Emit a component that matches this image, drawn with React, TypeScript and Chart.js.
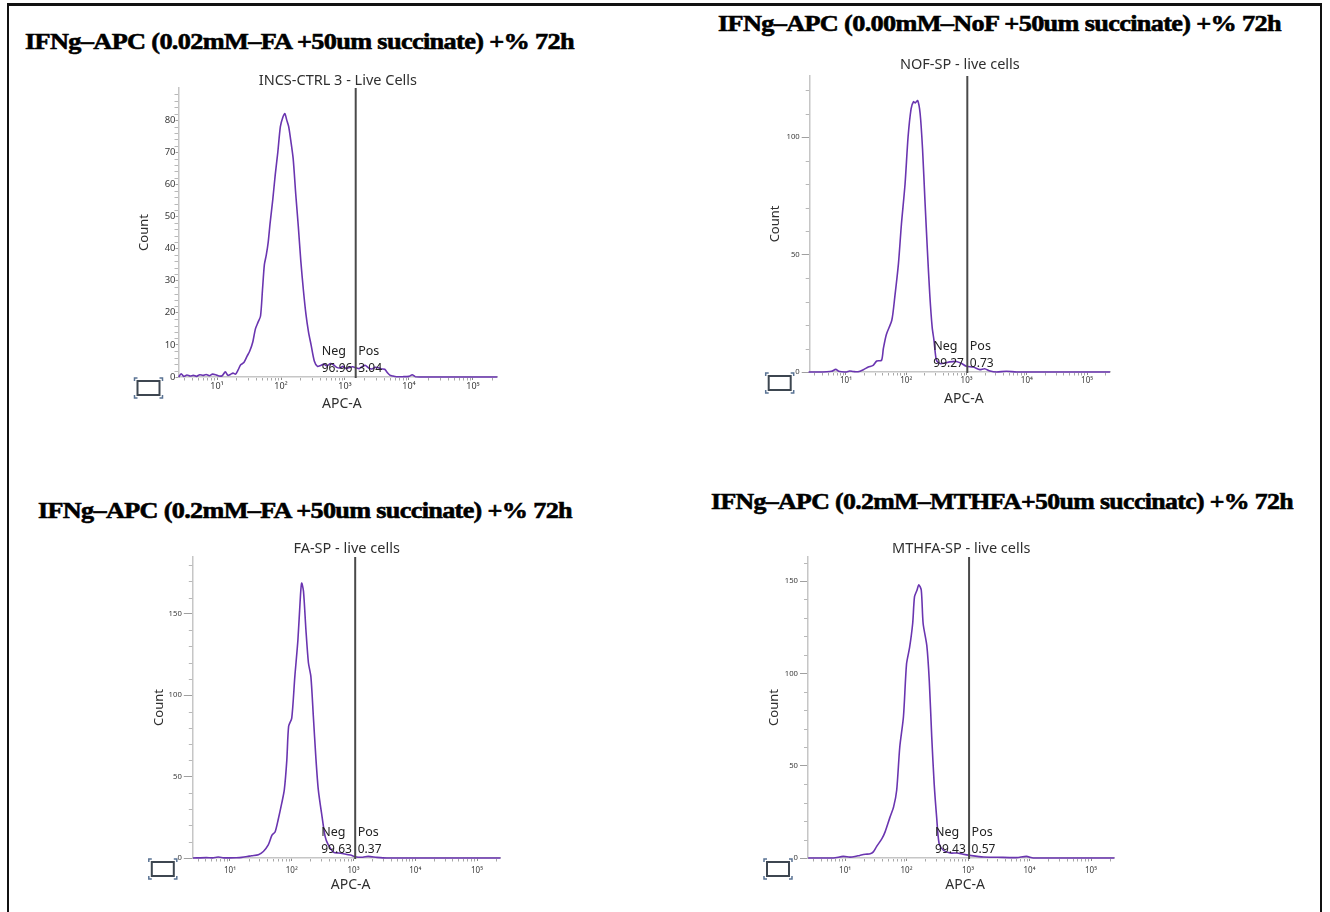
import React, { useEffect, useLayoutEffect, useRef } from "react";
import { Chart, registerables } from "chart.js";

Chart.register(...registerables);

// ---------------- data ----------------
// x axis decades
const decadeTicks = [10, 100, 1000, 10000, 100000];
const decadeLabels = ["10\u00B9", "10\u00B2", "10\u00B3", "10\u2074", "10\u2075"];
const apcMin = 2.5;
const apcMax = 240000;

// histograms: [log10(APC-A), Count]
const ctrlHist: number[][] = [
  [0.40, 0], [0.44, 1.0], [0.48, 0.2], [0.53, 0.6], [0.58, 0.3], [0.63, 0.5], [0.68, 0.2], [0.73, 0.7],
  [0.78, 0.5], [0.83, 0.8], [0.88, 0.4], [0.93, 0.9], [0.98, 0.7], [1.03, 0.3], [1.08, 0.4], [1.13, 1.6],
  [1.17, 0.5], [1.21, 0.8], [1.25, 1.2], [1.29, 0.9], [1.33, 2.2], [1.37, 3.8], [1.42, 4.5], [1.47, 6.5],
  [1.51, 8.0], [1.56, 11], [1.60, 15], [1.64, 17], [1.68, 19], [1.71, 27], [1.74, 35], [1.77, 38],
  [1.80, 42], [1.83, 48], [1.87, 55], [1.91, 63], [1.95, 70], [1.99, 78], [2.03, 81], [2.06, 82],
  [2.09, 80], [2.12, 78], [2.15, 74], [2.19, 68], [2.23, 57], [2.27, 47], [2.31, 36], [2.35, 27],
  [2.39, 19.5], [2.43, 14], [2.47, 10], [2.52, 5], [2.57, 3.3], [2.62, 3.6], [2.67, 4.0], [2.72, 3.4],
  [2.77, 4.2], [2.82, 3.8], [2.87, 3.0], [2.92, 2.8], [2.97, 3.3], [3.02, 2.6], [3.07, 3.0], [3.12, 3.2],
  [3.17, 2.9], [3.22, 2.6], [3.27, 3.3], [3.32, 3.6], [3.37, 2.8], [3.42, 2.5], [3.47, 3.0], [3.52, 2.9],
  [3.57, 2.5], [3.62, 2.4], [3.66, 1.4], [3.70, 0.6], [3.75, 0.3], [3.80, 0.1], [3.90, 0.1], [4.00, 0.2],
  [4.05, 0.7], [4.10, 0.1], [4.30, 0], [4.70, 0], [5.10, 0], [5.38, 0],
];

const nofHist: number[][] = [
  [0.38, 0], [0.51, 0], [0.68, 0.1], [0.76, 0.3], [0.83, 1.1], [0.88, 0.3], [0.93, 0.1], [1.01, 0],
  [1.06, 0.4], [1.12, 0.2], [1.20, 0.1], [1.29, 1.0], [1.37, 2.1], [1.45, 2.8], [1.51, 4.7], [1.59, 5.0],
  [1.62, 10], [1.67, 16], [1.76, 22], [1.81, 32], [1.87, 46], [1.92, 63], [1.98, 80], [2.03, 100],
  [2.08, 112], [2.12, 115], [2.15, 114.5], [2.19, 115.5], [2.23, 110], [2.27, 95], [2.31, 73], [2.35, 52],
  [2.39, 33], [2.43, 19], [2.46, 13.5], [2.50, 5], [2.56, 3.6], [2.64, 3.8], [2.72, 4.3], [2.83, 4.5],
  [2.92, 3.6], [3.00, 2.4], [3.11, 2.1], [3.22, 1.0], [3.30, 1.4], [3.39, 0.4], [3.50, 0], [3.66, 0.3],
  [3.83, 0], [4.20, 0], [4.80, 0], [5.38, 0],
];

const faHist: number[][] = [
  [0.40, 0], [0.62, 0.2], [0.72, 0.1], [0.81, 0.6], [0.90, 0.1], [1.00, 0.1], [1.10, 0.2], [1.19, 0.4],
  [1.28, 0.9], [1.35, 1.4], [1.46, 2], [1.54, 4], [1.62, 8], [1.68, 14], [1.73, 16], [1.78, 23.5],
  [1.84, 34], [1.88, 42], [1.92, 60], [1.95, 81], [2.00, 86], [2.05, 111.5], [2.10, 134], [2.14, 160.6],
  [2.16, 169], [2.19, 164], [2.23, 140], [2.27, 120], [2.31, 111.5], [2.35, 87], [2.39, 62], [2.43, 42],
  [2.49, 25.6], [2.54, 13.3], [2.59, 8.2], [2.68, 3.5], [2.76, 3.1], [2.86, 2.5], [2.95, 1.8], [3.05, 0.6],
  [3.15, 0.5], [3.24, 1], [3.38, 0.4], [3.54, 0], [4.20, 0], [5.38, 0],
];

const mthfaHist: number[][] = [
  [0.40, 0], [0.81, 0], [0.97, 0.9], [1.08, 0.5], [1.16, 0.8], [1.24, 1.4], [1.33, 2], [1.41, 2.3],
  [1.46, 3.3], [1.51, 6], [1.60, 10.5], [1.65, 14], [1.73, 22], [1.79, 27.7], [1.84, 36.7], [1.89, 60],
  [1.95, 76.5], [2.00, 105], [2.05, 114], [2.10, 127], [2.13, 141.5], [2.17, 145], [2.20, 148], [2.24, 145],
  [2.27, 127], [2.33, 115], [2.37, 96], [2.41, 65.6], [2.45, 40], [2.49, 22], [2.53, 7.8], [2.60, 4.2],
  [2.71, 2.7], [2.82, 2.7], [2.92, 2], [3.03, 1.4], [3.25, 0.5], [3.47, 0.4], [3.79, 0.2], [3.95, 0.9],
  [4.06, 0], [4.50, 0], [5.38, 0],
];

const ctrlYTicks = [0, 10, 20, 30, 40, 50, 60, 70, 80];
const nofYTicks = [0, 50, 100];
const faYTicks = [0, 50, 100, 150];
const mthfaYTicks = [0, 50, 100, 150];

const panelHists = [ctrlHist, nofHist, faHist, mthfaHist];
const panelYTicks = [ctrlYTicks, nofYTicks, faYTicks, mthfaYTicks];
const yMaxes = [90, 126, 185, 163];
const yMinorSteps = [2, 10, 10, 10];
const gateValues = [1470, 1030, 1065, 1040];
const negPercents = ["96.96", "99.27", "99.63", "99.43"];
const posPercents = ["3.04", "0.73", "0.37", "0.57"];
const panelNames = ["INCS-CTRL 3 - Live Cells", "NOF-SP - live cells", "FA-SP - live cells", "MTHFA-SP - live cells"];
const headings = [
  "IFNg\u2013APC (0.02mM\u2013FA +50um succinate) +% 72h",
  "IFNg\u2013APC (0.00mM\u2013NoF +50um succinate) +% 72h",
  "IFNg\u2013APC (0.2mM\u2013FA +50um succinate) +% 72h",
  "IFNg\u2013APC (0.2mM\u2013MTHFA+50um succinatc) +% 72h",
];

// ---------------- layout ----------------
const FONT = "'Noto Sans', 'Segoe UI', sans-serif";
const CURVE = "#6a35b0";

type Area = { left: number; top: number; right: number; bottom: number };
type PanelLayout = {
  area: Area;
  yTickFont: number;
  xTickFont: number;
  yTickLen: number;
  yTickPad: number;
  xTickPad: number;
  titleGap: number;
};

const panelLayouts: PanelLayout[] = [
  { area: { left: 178.5, top: 88, right: 497.3, bottom: 377 }, yTickFont: 9.5, xTickFont: 9, yTickLen: 3, yTickPad: 0, xTickPad: 0.6, titleGap: 7 },
  { area: { left: 809.7, top: 75.9, right: 1110, bottom: 372 }, yTickFont: 7.7, xTickFont: 8, yTickLen: 8, yTickPad: 2, xTickPad: 0.7, titleGap: 11 },
  { area: { left: 192.8, top: 557, right: 500.5, bottom: 858 }, yTickFont: 7.7, xTickFont: 8, yTickLen: 9, yTickPad: 2, xTickPad: 5.2, titleGap: 8 },
  { area: { left: 808, top: 557, right: 1114.4, bottom: 858 }, yTickFont: 7.7, xTickFont: 8, yTickLen: 8, yTickPad: 2, xTickPad: 4.7, titleGap: 8 },
];

const headingBoxes = [
  { x0: 25, x1: 574, baseline: 48.5 },
  { x0: 718, x1: 1281, baseline: 31 },
  { x0: 38, x1: 572, baseline: 518 },
  { x0: 711, x1: 1293, baseline: 509 },
];

const PAD_L = 75, PAD_T = 30, PAD_R = 20, PAD_B = 45, YW = 30, XH = 20;

function drawIcon(ctx: CanvasRenderingContext2D, x0: number, y0: number) {
  ctx.save();
  ctx.strokeStyle = "#3d4650";
  ctx.lineWidth = 2;
  ctx.strokeRect(x0, y0, 22, 14);
  ctx.strokeStyle = "#5a7394";
  ctx.lineWidth = 1.5;
  const corners = [
    [x0 - 3, y0 - 3, 1, 1],
    [x0 + 25, y0 - 3, -1, 1],
    [x0 - 3, y0 + 17, 1, -1],
    [x0 + 25, y0 + 17, -1, -1],
  ];
  for (const [cx, cy, dx, dy] of corners) {
    ctx.beginPath();
    ctx.moveTo(cx + 3 * dx, cy);
    ctx.lineTo(cx, cy);
    ctx.lineTo(cx, cy + 3 * dy);
    ctx.stroke();
  }
  ctx.restore();
}

function FlowPanel({ index }: { index: number }) {
  const ref = useRef<HTMLCanvasElement>(null);
  const L = panelLayouts[index];
  const a = L.area;
  const cx = Math.floor(a.left - PAD_L);
  const cy = Math.floor(a.top - PAD_T);
  const cw = Math.ceil(a.right + PAD_R) - cx;
  const ch = Math.ceil(a.bottom + PAD_B) - cy;

  useEffect(() => {
    const canvas = ref.current;
    if (!canvas) return;
    const yTicks = panelYTicks[index];
    const yMajor = yTicks[1] - yTicks[0];
    const yMinor = yMinorSteps[index];
    const yMax = yMaxes[index];
    const gate = gateValues[index];

    const overlay = {
      id: "flowOverlay" + index,
      afterDatasetsDraw(chart: any) {
        const ctx: CanvasRenderingContext2D = chart.ctx;
        const ca = chart.chartArea;
        const xs = chart.scales.x;
        const gx = xs.getPixelForValue(gate);
        ctx.save();
        ctx.strokeStyle = "#4a4a4a";
        ctx.lineWidth = 2;
        ctx.beginPath();
        ctx.moveTo(gx, ca.top);
        ctx.lineTo(gx, ca.bottom + 1);
        ctx.stroke();
        ctx.restore();
      },
      afterDraw(chart: any) {
        const ctx: CanvasRenderingContext2D = chart.ctx;
        const ca = chart.chartArea;
        const xs = chart.scales.x;
        const ys = chart.scales.y;
        ctx.save();
        // minor x ticks
        ctx.strokeStyle = "#a8a8a8";
        ctx.lineWidth = 1;
        for (let d = 0; d <= 5; d++) {
          for (let k = 2; k <= 9; k++) {
            const v = k * Math.pow(10, d);
            if (v < apcMin || v > apcMax) continue;
            const px = Math.round(xs.getPixelForValue(v)) + 0.5;
            ctx.beginPath();
            ctx.moveTo(px, ca.bottom + 1);
            ctx.lineTo(px, ca.bottom + 3.5);
            ctx.stroke();
          }
        }
        // minor y ticks
        ctx.strokeStyle = "#b8b8b8";
        for (let v = yMinor; v <= yMax; v += yMinor) {
          if (v % yMajor === 0) continue;
          const py = Math.round(ys.getPixelForValue(v)) + 0.5;
          ctx.beginPath();
          ctx.moveTo(ca.left - 4, py);
          ctx.lineTo(ca.left - 0.5, py);
          ctx.stroke();
        }
        const midX = (ca.left + ca.right) / 2;
        // panel title
        ctx.fillStyle = "#2f2f2f";
        ctx.textAlign = "center";
        ctx.textBaseline = "middle";
        ctx.font = `14.5px ${FONT}`;
        ctx.fillText(panelNames[index], midX, ca.top - L.titleGap);
        // axis titles
        ctx.font = `14px ${FONT}`;
        ctx.fillText("APC-A", midX + 4, ca.bottom + 27.5);
        ctx.save();
        ctx.translate(ca.left - 34, (ca.top + ca.bottom) / 2);
        ctx.rotate(-Math.PI / 2);
        ctx.font = `13px ${FONT}`;
        ctx.fillText("Count", 0, 0);
        ctx.restore();
        // gate labels
        const gx = xs.getPixelForValue(gate);
        ctx.fillStyle = "#222";
        ctx.textAlign = "left";
        ctx.font = `12.5px ${FONT}`;
        ctx.fillText("Neg", gx - 34, ca.bottom - 26);
        ctx.fillText("Pos", gx + 2.5, ca.bottom - 26);
        ctx.font = `12px ${FONT}`;
        ctx.fillText(negPercents[index], gx - 34, ca.bottom - 8.5);
        ctx.fillText(posPercents[index], gx + 2.5, ca.bottom - 8.5);
        ctx.restore();
        drawIcon(ctx, ca.left - 41, ca.bottom + 4);
      },
    };

    const chart = new Chart(canvas, {
      type: "line",
      data: {
        datasets: [
          {
            data: panelHists[index].map(([lg, c]) => ({ x: Math.pow(10, lg), y: c })),
            borderColor: CURVE,
            borderWidth: 1.6,
            pointRadius: 0,
            tension: 0.25,
            fill: false,
            clip: 4,
          } as any,
        ],
      },
      options: {
        animation: false,
        responsive: false,
        maintainAspectRatio: false,
        devicePixelRatio: 1,
        events: [],
        layout: {
          padding: {
            left: a.left - cx - YW,
            top: a.top - cy,
            right: cx + cw - a.right,
            bottom: cy + ch - a.bottom - XH,
          },
        },
        plugins: { legend: { display: false }, tooltip: { enabled: false }, title: { display: false } },
        scales: {
          x: {
            type: "logarithmic",
            min: apcMin,
            max: apcMax,
            afterFit: (s: any) => {
              s.height = XH;
            },
            afterBuildTicks: (s: any) => {
              s.ticks = decadeTicks.map((v) => ({ value: v }));
            },
            ticks: {
              autoSkip: false,
              maxRotation: 0,
              minRotation: 0,
              padding: L.xTickPad,
              color: "#3a3a3a",
              font: { family: FONT, size: L.xTickFont },
              callback: (v: any) => {
                const i = decadeTicks.indexOf(Number(v));
                return i >= 0 ? decadeLabels[i] : "";
              },
            },
            grid: { drawOnChartArea: false, drawTicks: true, tickLength: 3, tickColor: "#8a8a8a", tickWidth: 1 },
            border: { display: true, color: "#c6c6c6", width: 1.5 },
          } as any,
          y: {
            type: "linear",
            min: 0,
            max: yMax,
            afterFit: (s: any) => {
              s.width = YW;
            },
            afterBuildTicks: (s: any) => {
              s.ticks = yTicks.map((v) => ({ value: v }));
            },
            ticks: {
              autoSkip: false,
              padding: L.yTickPad,
              color: "#3a3a3a",
              font: { family: FONT, size: L.yTickFont },
            },
            grid: { drawOnChartArea: false, drawTicks: true, tickLength: L.yTickLen, tickColor: "#a0a0a0", tickWidth: 1 },
            border: { display: true, color: "#c6c6c6", width: 1.5 },
          } as any,
        },
      },
      plugins: [overlay as any],
    });
    return () => chart.destroy();
  }, [index]);

  return (
    <canvas
      ref={ref}
      width={cw}
      height={ch}
      style={{ position: "absolute", left: cx, top: cy, width: cw, height: ch }}
    />
  );
}

function Heading({ index }: { index: number }) {
  const ref = useRef<HTMLDivElement>(null);
  const box = headingBoxes[index];
  useLayoutEffect(() => {
    const el = ref.current;
    if (!el) return;
    el.style.transform = "none";
    const w = el.getBoundingClientRect().width;
    if (w > 0) el.style.transform = `scaleX(${(box.x1 - box.x0) / w})`;
  }, [index]);
  return (
    <div
      ref={ref}
      style={{
        position: "absolute",
        left: box.x0,
        top: box.baseline - 20,
        whiteSpace: "nowrap",
        fontFamily: "'Liberation Serif', 'Times New Roman', serif",
        fontWeight: 700,
        fontSize: 24,
        lineHeight: "24px",
        letterSpacing: "-0.6px",
        color: "#000",
        WebkitTextStroke: "0.6px #000",
        transformOrigin: "0 0",
      }}
    >
      {headings[index]}
    </div>
  );
}

export default function App() {
  return (
    <div
      style={{
        position: "absolute",
        left: 0,
        top: 0,
        width: 1330,
        height: 912,
        overflow: "hidden",
        background: "#fff",
      }}
    >
      <div
        style={{
          position: "absolute",
          left: 7,
          top: 3,
          width: 1311,
          height: 940,
          borderTop: "3px solid #111",
          borderLeft: "2px solid #111",
          borderRight: "2px solid #111",
        }}
      />
      {[0, 1, 2, 3].map((i) => (
        <FlowPanel key={"p" + i} index={i} />
      ))}
      {[0, 1, 2, 3].map((i) => (
        <Heading key={"h" + i} index={i} />
      ))}
    </div>
  );
}
